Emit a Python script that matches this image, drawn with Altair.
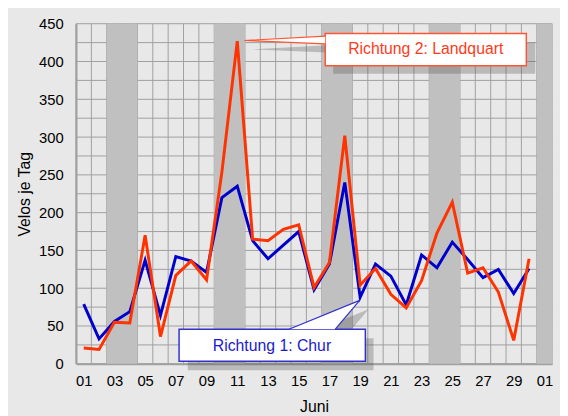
import altair as alt
import pandas as pd

# ---- data ----
days = list(range(1, 31))
chur = [79, 33, 56, 69, 137, 64, 142, 136, 121, 220, 235, 163, 139, 157, 175,
        98, 132, 240, 88, 132, 116, 78, 144, 127, 161, 138, 114, 125, 93, 126]
landquart = [21, 19, 55, 54, 170, 36, 117, 136, 111, 254, 427, 165, 163, 178, 184,
             101, 134, 302, 104, 126, 92, 74, 110, 173, 214, 120, 127, 95, 31, 139]
weekend_from = [2.5, 9.5, 16.5, 23.5, 30.5]
weekend_to = [4.5, 11.5, 18.5, 25.5, 31.5]
x_tick_values = list(range(1, 32, 2))
y_tick_values = list(range(0, 451, 50))
y_grid_values = list(range(0, 451, 25))
x_grid_values = [d + 0.5 for d in range(0, 32)]

label_red = "Richtung 2: Landquart"
label_blue = "Richtung 1: Chur"

XD = [0.5, 31.5]
YD = [0, 450]
FONT = "Liberation Sans"
RED = "#FF3300"
BLUE = "#0000CC"
GRID = "#A0A0A0"
BG = "#E8E8E8"
SHADOW = "#505050"
SH_OP = 0.3

x_axis = alt.Axis(values=x_tick_values,
                  labelExpr="datum.value > 30 ? '01' : (datum.value < 10 ? '0' + datum.value : '' + datum.value)",
                  ticks=False, tickSize=0, grid=False, domainColor=GRID, domainWidth=2,
                  labelFontSize=15, labelPadding=10, labelColor="#000000", labelFont=FONT,
                  title="Juni", titleFontSize=16, titleFont=FONT, titleFontWeight="normal",
                  titleColor="#000000", titleY=35, titleBaseline="top")
y_axis = alt.Axis(values=y_tick_values, ticks=False, tickSize=0, grid=False,
                  domainColor=GRID, domainWidth=2,
                  labelFontSize=15, labelPadding=13, labelColor="#000000", labelFont=FONT,
                  title="Velos je Tag", titleFontSize=16, titleFont=FONT,
                  titleFontWeight="normal", titleColor="#000000",
                  titleX=-44, titleY=172.5)


def xs():
    return alt.Scale(domain=XD, nice=False, zero=False)


def ys():
    return alt.Scale(domain=YD, nice=False, zero=False)


def X(f):
    return alt.X(f, scale=xs(), axis=x_axis)


def Y(f):
    return alt.Y(f, scale=ys(), axis=y_axis)


def XDm(v):
    return alt.XDatum(v, scale=xs(), axis=x_axis)


def YDm(v):
    return alt.YDatum(v, scale=ys(), axis=y_axis)


df = pd.DataFrame({"day": days, "chur": chur, "landquart": landquart})
bands = pd.DataFrame({"a": weekend_from, "b": weekend_to})
hgrid = pd.DataFrame({"v": y_grid_values})
vgrid = pd.DataFrame({"d": x_grid_values})

vg = alt.Chart(vgrid).mark_rule(color=GRID, strokeWidth=1).encode(
    x=X("d:Q"), y=YDm(0), y2=alt.datum(450))
hg = alt.Chart(hgrid).mark_rule(color=GRID, strokeWidth=1).encode(
    y=Y("v:Q"), x=XDm(0.5), x2=alt.datum(31.5))
band = alt.Chart(bands).mark_rect(color="#C0C0C0").encode(
    x=X("a:Q"), x2="b:Q", y=YDm(0), y2=alt.datum(450))

blue_line = alt.Chart(df).mark_line(color=BLUE, strokeWidth=3).encode(
    x=X("day:Q"), y=Y("chur:Q"))
red_line = alt.Chart(df).mark_line(color=RED, strokeWidth=3).encode(
    x=X("day:Q"), y=Y("landquart:Q"))


# ---- callouts (positions in data coordinates) ----
def rect(x1, x2, y1, y2, **kw):
    return alt.Chart(pd.DataFrame({"k": [0]})).mark_rect(**kw).encode(
        x=XDm(x1), x2=alt.datum(x2), y=YDm(y1), y2=alt.datum(y2))


def vtri(xs_, ys1, ys2, **kw):
    d = pd.DataFrame({"x": xs_, "y": ys1, "y2": ys2})
    return alt.Chart(d).mark_area(orient="vertical", **kw).encode(
        x=X("x:Q"), y=Y("y:Q"), y2="y2:Q")


def htri(ys_, xs1, xs2, **kw):
    d = pd.DataFrame({"y": ys_, "x": xs1, "x2": xs2})
    return alt.Chart(d).mark_area(orient="horizontal", **kw).encode(
        y=Y("y:Q"), x=X("x:Q"), x2="x2:Q")


def edge(px, py, **kw):
    d = pd.DataFrame({"x": px, "y": py, "o": list(range(len(px)))})
    return alt.Chart(d).mark_line(**kw).encode(
        x=X("x:Q"), y=Y("y:Q"), order="o:Q")


def label(x, y, txt, color):
    return alt.Chart(pd.DataFrame({"t": [txt]})).mark_text(
        font=FONT, fontSize=16, color=color, align="center", baseline="middle").encode(
        x=XDm(x), y=YDm(y), text="t:N")


red_call = [
    vtri([11.98, 17.24], [416, 422], [416, 411.5], color=SHADOW, opacity=SH_OP),
    rect(17.24, 30.4, 383.9, 425.2, color=SHADOW, opacity=SH_OP),
    rect(16.73, 29.82, 394.3, 437, fill="white", stroke="#FF5533", strokeWidth=1.5),
    vtri([11.46, 16.73], [427.8, 433.7], [427.8, 423.3], color="white"),
    edge([16.73, 11.46, 16.73], [433.7, 427.8, 423.3], color="#FF5533", strokeWidth=1.2),
    label(23.27, 416, label_red, "#FF3A1A"),
]
blue_call = [
    htri([72.1, 33.9], [19.55, 14.95], [19.55, 17.95], color=SHADOW, opacity=SH_OP),
    rect(7.78, 19.87, -8.7, 33.9, color=SHADOW, opacity=SH_OP),
    rect(7.21, 19.34, 3.5, 45.65, fill="white", stroke="#3333CC", strokeWidth=1.5),
    htri([83.9, 45.65], [18.97, 14.37], [18.97, 17.37], color="white"),
    edge([14.37, 18.97, 17.37], [45.65, 83.9, 45.65], color="#3333CC", strokeWidth=1.2),
    label(13.26, 23.5, label_blue, "#1A1ACC"),
]

chart = alt.layer(vg, hg, band, blue_line, red_line, *red_call, *blue_call).properties(
    width=483, height=345,
    autosize=alt.AutoSizeParams(type="none"),
    padding={"left": 69, "top": 13, "right": 8, "bottom": 50},
    background=BG,
).configure_view(fill=BG, stroke=None)

chart.save("out.html", embed_options={"renderer": "svg", "actions": False})
